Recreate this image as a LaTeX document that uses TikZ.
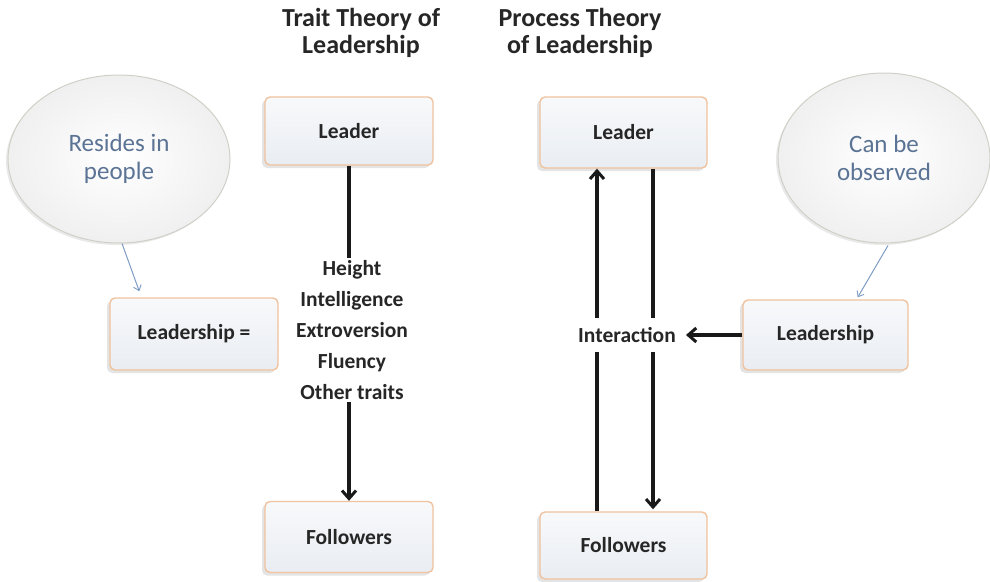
\documentclass[tikz,border=0pt]{standalone}
\usepackage{fontspec}
\setmainfont{Carlito}
\usetikzlibrary{arrows.meta,shadows,calc,shapes.geometric}
\definecolor{boxborder}{HTML}{F0C29E}
\definecolor{boxtop}{HTML}{F8F9FB}
\definecolor{boxbot}{HTML}{E9EDF2}
\definecolor{elltext}{HTML}{5B7394}
\definecolor{thinarrow}{HTML}{7E9CC4}
\definecolor{ellborder}{HTML}{D0D0C8}
\begin{document}
\begin{tikzpicture}[x=1pt,y=-1pt,
  box/.style={draw=boxborder, line width=1.4pt, rounded corners=5pt,
    top color=boxtop, bottom color=boxbot,
    drop shadow={shadow xshift=-3pt, shadow yshift=-3pt, opacity=0.15, fill=black!70},
    font=\fontsize{21.5}{26}\selectfont\bfseries, text=black!85},
  bubble/.style={ellipse, draw=ellborder, line width=1pt,
    inner color=white, outer color=black!6,
    drop shadow={shadow xshift=-2pt, shadow yshift=-2pt, opacity=0.12, fill=black!70},
    font=\fontsize{25}{28}\selectfont, text=elltext, align=center, inner sep=0pt},
  title/.style={font=\fontsize{26}{27}\selectfont\bfseries, align=center, text=black!85},
  lbl/.style={font=\fontsize{21.5}{31}\selectfont\bfseries, align=center, text=black!85},
  conn/.style={line width=3.2pt, black!90},
  arr/.style={conn, -{Straight Barb[length=8pt,width=14pt,line width=3pt]}},
  thin/.style={thinarrow, line width=1pt, -{Straight Barb[length=5pt,width=8pt,line width=0.9pt]}}
]
\useasboundingbox (0,0) rectangle (990,581);

% titles
\node[title] (t1) at (361,33) {Trait Theory of\\Leadership};
\node[title] (t2) at (580,33) {Process Theory\\of Leadership};

% bubbles
\node[bubble, minimum width=222pt, minimum height=168pt] (le) at (119,159) {Resides in\\people};
\node[bubble, minimum width=212pt, minimum height=170pt] (re) at (884,158) {Can be\\observed};

% trait theory boxes
\node[box, minimum width=168pt, minimum height=68pt] (tl) at (349,131) {Leader};
\node[box, minimum width=168pt, minimum height=72pt] (ll) at (194,334) {Leadership =};
\node[box, minimum width=168pt, minimum height=71pt] (tf) at (349,537) {Followers};

% process theory boxes
\node[box, minimum width=167pt, minimum height=71pt] (pl) at (623.5,132.5) {Leader};
\node[box, minimum width=165pt, minimum height=70pt] (rl) at (825.5,335) {Leadership};
\node[box, minimum width=167pt, minimum height=67pt] (pf) at (623.5,545.5) {Followers};

% trait list
\node[lbl, inner xsep=0pt, inner ysep=2pt] (traits) at (352,330)
  {Height\\Intelligence\\Extroversion\\Fluency\\Other traits};

% interaction
\node[lbl, inner sep=0pt, minimum height=34pt] (inter) at (627,335) {Interaction};

% trait connectors
\draw[conn] (tl.south) -- (traits.north -| tl.south);
\draw[arr] (traits.south -| tf.north) -- (tf.north);

% process connectors
\coordinate (ux) at (597,0);
\coordinate (dx) at (653,0);
\draw[conn] (pf.north -| ux) -- (inter.south -| ux);
\draw[arr] (inter.north -| ux) -- (pl.south -| ux);
\draw[conn] (pl.south -| dx) -- (inter.north -| dx);
\draw[arr] (inter.south -| dx) -- ([yshift=2pt]pf.north -| dx);
\draw[arr, shorten >=10pt] (rl.west) -- (inter.east);

% bubble arrows
\draw[thin] ([xshift=3pt]le.south) -- ([xshift=30pt,yshift=6pt]ll.north west);
\draw[thin] ([xshift=4pt,yshift=-2pt]re.south) -- ([xshift=-51pt,yshift=2pt]rl.north east);
\end{tikzpicture}
\end{document}
